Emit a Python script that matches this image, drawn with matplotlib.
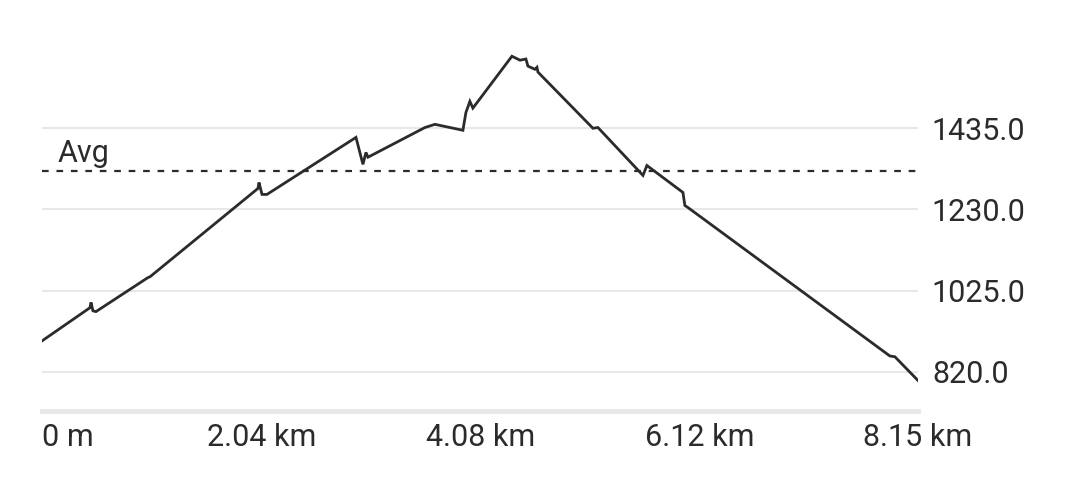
import matplotlib
matplotlib.use("Agg")
import matplotlib.pyplot as plt
import numpy as np

# elevation profile, distance in km, elevation in m
dist_km = [0.0, 0.447, 0.456, 0.474, 0.502, 0.986, 1.005, 2.009, 2.019, 2.047,
           2.093, 2.921, 2.986, 3.014, 3.033, 3.563, 3.656, 3.916, 3.944, 3.981,
           4.009, 4.372, 4.447, 4.502, 4.521, 4.586, 4.605, 4.614, 5.126, 5.172,
           5.591, 5.628, 5.963, 5.981, 6.009, 7.888, 7.935, 8.15]
elev_m = [898, 982, 995, 974, 972, 1058, 1060, 1283, 1298, 1268,
          1268, 1412, 1344, 1374, 1362, 1437, 1445, 1430, 1475, 1503,
          1486, 1617, 1607, 1610, 1592, 1584, 1589, 1577, 1435, 1437,
          1316, 1341, 1273, 1240, 1235, 860, 858, 798]

avg_elev = 1326
y_ticks = [820.0, 1025.0, 1230.0, 1435.0]
x_ticks = [0, 2.04, 4.08, 6.12, 8.15]
x_labels = ["0 m", "2.04 km", "4.08 km", "6.12 km", "8.15 km"]

plt.rcParams['font.family'] = ['Roboto', 'DejaVu Sans']
ink = '#2b2b2b'
grid_c = '#e8e8e8'

fig = plt.figure(figsize=(10.8, 4.95), dpi=100)
ax = fig.add_axes([42 / 1080, 1 - 411 / 495, 876 / 1080, 371 / 495])

ax.plot(dist_km, elev_m, color=ink, lw=2.0, solid_joinstyle='miter', zorder=3)
ax.axhline(avg_elev, color=ink, lw=1.6, ls=(0, (3, 3.5)), zorder=2)
ax.annotate("Avg", xy=(0, avg_elev), xytext=(16, 3), textcoords='offset pixels',
            fontsize=22, color=ink, va='bottom', ha='left')

for y in y_ticks:
    ax.axhline(y, color=grid_c, lw=1.5, zorder=1)

ax.set_xlim(0, 8.15)
ax.set_ylim(721, 1658)

for side in ('top', 'left', 'right'):
    ax.spines[side].set_visible(False)
ax.spines['bottom'].set_color(grid_c)
ax.spines['bottom'].set_linewidth(3.5)

ax.yaxis.tick_right()
ax.set_yticks(y_ticks)
ax.set_yticklabels([f"{v:.1f}" for v in y_ticks])
ax.tick_params(axis='y', length=0, pad=10, labelsize=22, labelcolor=ink)

ax.set_xticks(x_ticks)
ax.set_xticklabels(x_labels)
ax.tick_params(axis='x', length=0, pad=9, labelsize=22, labelcolor=ink)
ax.get_xticklabels()[0].set_horizontalalignment('left')

fig.savefig("out.png", dpi=100, facecolor='white')
